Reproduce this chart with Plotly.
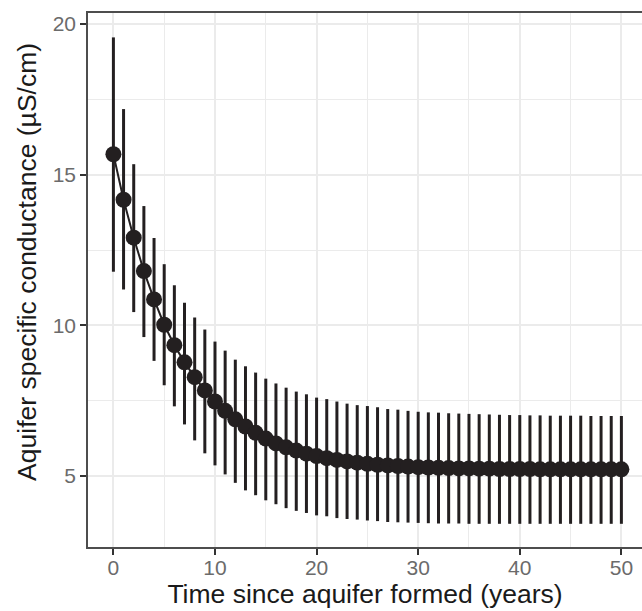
import plotly.graph_objects as go

# Time since the aquifer formed (years)
years = list(range(0, 51))

# Mean specific conductance (uS/cm) for each year
sc_mean = [
    15.68, 14.17, 12.91, 11.80, 10.86, 10.02, 9.34, 8.77, 8.28, 7.84,
    7.47, 7.16, 6.88, 6.64, 6.43, 6.24, 6.08, 5.95, 5.84, 5.74,
    5.66, 5.59, 5.53, 5.48, 5.44, 5.40, 5.37, 5.35, 5.33, 5.31,
    5.29, 5.28, 5.27, 5.26, 5.25, 5.25, 5.24, 5.24, 5.23, 5.23,
    5.23, 5.23, 5.22, 5.22, 5.22, 5.22, 5.22, 5.22, 5.22, 5.22,
    5.22,
]

# Upper end of the interval
sc_upper = [
    19.56, 17.18, 15.35, 13.96, 12.90, 12.03, 11.33, 10.75, 10.26, 9.86,
    9.46, 9.16, 8.86, 8.64, 8.43, 8.23, 8.07, 7.93, 7.80, 7.71,
    7.60, 7.55, 7.47, 7.40, 7.35, 7.32, 7.28, 7.22, 7.20, 7.16,
    7.13, 7.11, 7.10, 7.08, 7.07, 7.06, 7.05, 7.04, 7.03, 7.02,
    7.02, 7.01, 7.01, 7.00, 7.00, 7.00, 7.00, 6.99, 6.99, 6.99,
    6.99,
]

# Lower end of the interval
sc_lower = [
    11.78, 11.19, 10.44, 9.61, 8.82, 8.01, 7.31, 6.71, 6.18, 5.75,
    5.35, 5.05, 4.77, 4.52, 4.36, 4.19, 4.06, 3.93, 3.84, 3.77,
    3.69, 3.66, 3.60, 3.57, 3.55, 3.52, 3.50, 3.47, 3.46, 3.45,
    3.44, 3.43, 3.42, 3.42, 3.42, 3.41, 3.41, 3.41, 3.41, 3.41,
    3.41, 3.41, 3.41, 3.41, 3.41, 3.41, 3.41, 3.41, 3.41, 3.41,
    3.41,
]

x_ticks = [0, 10, 20, 30, 40, 50]
y_ticks = [5, 10, 15, 20]

INK = "#231f20"
FONT = "Liberation Sans, Arial, sans-serif"

err_plus = [u - m for u, m in zip(sc_upper, sc_mean)]
err_minus = [m - l for m, l in zip(sc_mean, sc_lower)]

fig = go.Figure()

fig.add_trace(go.Scatter(
    x=years,
    y=sc_mean,
    mode="lines+markers",
    line=dict(color=INK, width=2),
    marker=dict(color=INK, size=16, line=dict(width=0)),
    error_y=dict(
        type="data",
        symmetric=False,
        array=err_plus,
        arrayminus=err_minus,
        color=INK,
        thickness=3,
        width=0,
    ),
    showlegend=False,
))

axis_common = dict(
    showgrid=True,
    gridcolor="#ebebeb",
    gridwidth=2,
    zeroline=False,
    showline=True,
    linecolor="#4d4d4d",
    linewidth=1.5,
    ticks="outside",
    ticklen=6,
    tickwidth=2,
    tickcolor="#333333",
    tickfont=dict(family=FONT, size=21, color="#6b6b6b"),
    minor=dict(showgrid=True, gridcolor="#ebebeb", gridwidth=1.1),
)

fig.update_layout(
    width=642,
    height=611,
    paper_bgcolor="white",
    plot_bgcolor="white",
    margin=dict(l=88, r=0, t=13, b=64),
    xaxis=dict(
        **axis_common,
        range=[-2.5, 52.03],
        tickvals=x_ticks,
        ticktext=[str(v) for v in x_ticks],
        mirror=True,
        ticklabelstandoff=-5,
        title=dict(text="Time since aquifer formed (years)",
                   font=dict(family=FONT, size=26.5, color="#1a1a1a"),
                   standoff=6),
    ),
    yaxis=dict(
        **axis_common,
        range=[2.64, 20.37],
        tickvals=y_ticks,
        ticktext=[str(v) for v in y_ticks],
    ),
)
fig.update_xaxes(minor=dict(tickvals=[5, 15, 25, 35, 45], ticks=""))
fig.update_yaxes(minor=dict(tickvals=[7.5, 12.5, 17.5], ticks=""))

# Vertical y-axis title, placed as a rotated annotation
fig.add_annotation(
    text="Aquifer specific conductance (µS/cm)",
    xref="paper", yref="paper",
    x=-0.110, y=0.534,
    xanchor="center", yanchor="middle",
    textangle=-90,
    showarrow=False,
    font=dict(family=FONT, size=26.5, color="#1a1a1a"),
)

fig.write_html("out.html")
